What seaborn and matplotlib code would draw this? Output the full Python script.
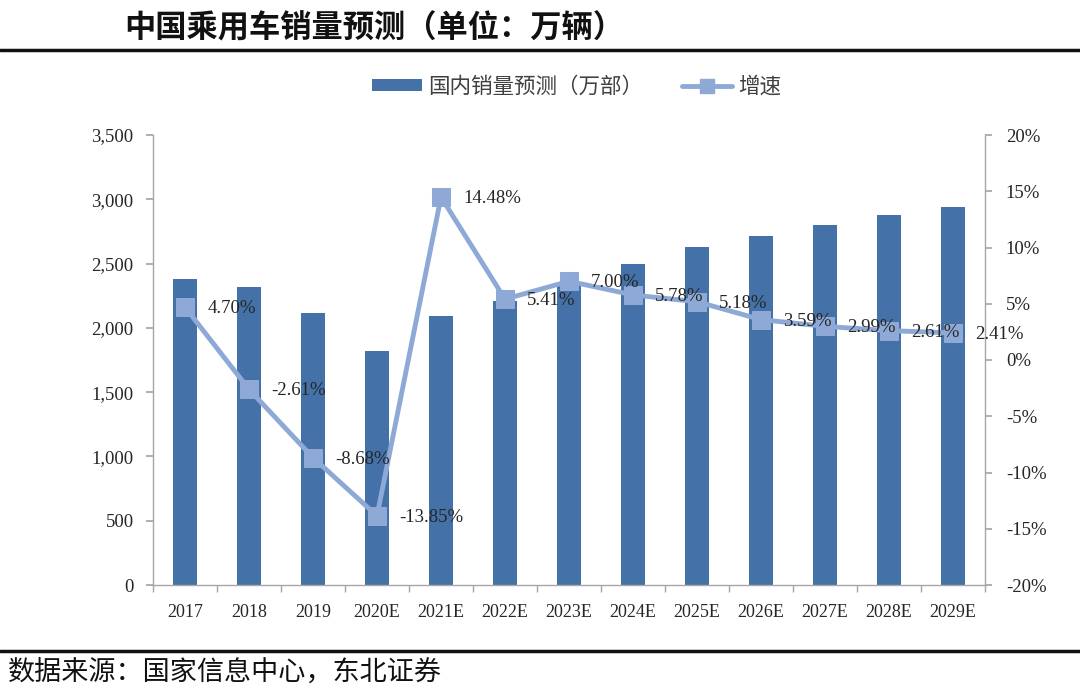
import matplotlib
matplotlib.use("Agg")
import matplotlib.pyplot as plt
import seaborn as sns
import pandas as pd
from matplotlib.patches import Patch
from matplotlib.lines import Line2D
from matplotlib.ticker import FuncFormatter, FixedLocator

years = ["2017", "2018", "2019", "2020E", "2021E", "2022E", "2023E",
         "2024E", "2025E", "2026E", "2027E", "2028E", "2029E"]
sales = [2380, 2318, 2115, 1822, 2092, 2205, 2360, 2496, 2626, 2716, 2797, 2876, 2940]
growth = [4.70, -2.61, -8.68, -13.85, 14.48, 5.41, 7.00, 5.78, 5.18, 3.59, 2.99, 2.61, 2.41]
growth_labels = ["4.70%", "-2.61%", "-8.68%", "-13.85%", "14.48%", "5.41%", "7.00%",
                 "5.78%", "5.18%", "3.59%", "2.99%", "2.61%", "2.41%"]

df = pd.DataFrame({"year": years, "sales": sales, "growth": growth})

sns.set_theme(style="white")
plt.rcParams['font.family'] = ['Liberation Serif', 'Noto Sans CJK SC', 'DejaVu Sans']

BAR = "#4371A8"
LINE = "#8EA9D5"
GREY = "#A6A6A6"
TXT = "#262626"

fig = plt.figure(figsize=(10.8, 6.96), dpi=100)
ax = fig.add_axes([153/1080, 1-585/696, (985-153)/1080, (585-135)/696])

sns.barplot(data=df, x="year", y="sales", color=BAR, width=0.38, ax=ax,
            saturation=1, edgecolor="none", zorder=2)
ax.set_xlim(-0.5, len(years)-0.5)
ax.set_ylim(0, 3500)
ax.set_yticks(range(0, 3501, 500))
ax.yaxis.set_major_formatter(FuncFormatter(lambda v, p: f"{int(v):,}"))
ax.set_xlabel("")
ax.set_ylabel("")

ax2 = ax.twinx()
sns.lineplot(data=df, x="year", y="growth", color=LINE, linewidth=3.5, marker="s",
             markersize=13, markeredgecolor=LINE, markerfacecolor=LINE, sort=False,
             ax=ax2, zorder=3)
ax2.set_ylim(-20, 20)
ax2.set_yticks(range(-20, 21, 5))
ax2.yaxis.set_major_formatter(FuncFormatter(lambda v, p: f"{int(v)}%"))
ax2.set_xlabel("")
ax2.set_ylabel("")
if ax2.get_legend():
    ax2.get_legend().remove()

for i, (g, lab) in enumerate(zip(growth, growth_labels)):
    ax2.annotate(lab, (i, g), xytext=(16, -1), textcoords="offset points",
                 ha="left", va="center", fontsize=13.5, color=TXT,
                 family="Liberation Serif", zorder=5)

for a in (ax, ax2):
    for s in a.spines.values():
        s.set_color(GREY)
        s.set_linewidth(1)
    a.spines["top"].set_visible(False)

ax.spines["right"].set_visible(False)
ax2.spines["left"].set_visible(False)
ax2.spines["bottom"].set_visible(False)

ax.tick_params(axis="y", which="major", left=True, length=5, color=GREY,
               labelsize=13.5, labelcolor=TXT, pad=9)
ax2.tick_params(axis="y", which="major", right=True, length=5, color=GREY,
                labelsize=13.5, labelcolor=TXT, pad=10)
ax.tick_params(axis="x", which="major", bottom=False, labelsize=13,
               labelcolor=TXT, pad=8)
ax.xaxis.set_minor_locator(FixedLocator([i + 0.5 for i in range(-1, len(years))]))
ax.tick_params(axis="x", which="minor", bottom=True, length=5, color=GREY, direction="out")
for t in ax.get_xticklabels() + ax.get_yticklabels() + ax2.get_yticklabels():
    t.set_family("Liberation Serif")

handles = [Patch(facecolor=BAR, edgecolor="none"),
           Line2D([0], [0], color=LINE, linewidth=3.5, marker="s", markersize=10)]
leg = fig.legend(handles, ["国内销量预测（万部）", "增速"], loc="center",
                 bbox_to_anchor=(0.534, 1-87/696), ncol=2, frameon=False,
                 prop={"family": "Noto Sans CJK SC", "size": 15.5},
                 handlelength=2.3, handleheight=0.5, columnspacing=1.8, handletextpad=0.3)
for t in leg.get_texts():
    t.set_color("#404040")

fig.text(124/1080, 1-28/696, "中国乘用车销量预测（单位：万辆）", ha="left", va="center",
         fontsize=22.5, fontweight="bold", family="Noto Sans CJK SC", color="#111111")
fig.add_artist(Line2D([0, 1], [1-50/696, 1-50/696], color="#111111", linewidth=2.5,
                      transform=fig.transFigure))
fig.add_artist(Line2D([0, 1], [1-651/696, 1-651/696], color="#111111", linewidth=2.5,
                      transform=fig.transFigure))
fig.text(8/1080, 1-672/696, "数据来源：国家信息中心，东北证券", ha="left", va="center",
         fontsize=19.5, family="Noto Sans CJK SC", color="#111111")

fig.savefig("out.png", dpi=100)
